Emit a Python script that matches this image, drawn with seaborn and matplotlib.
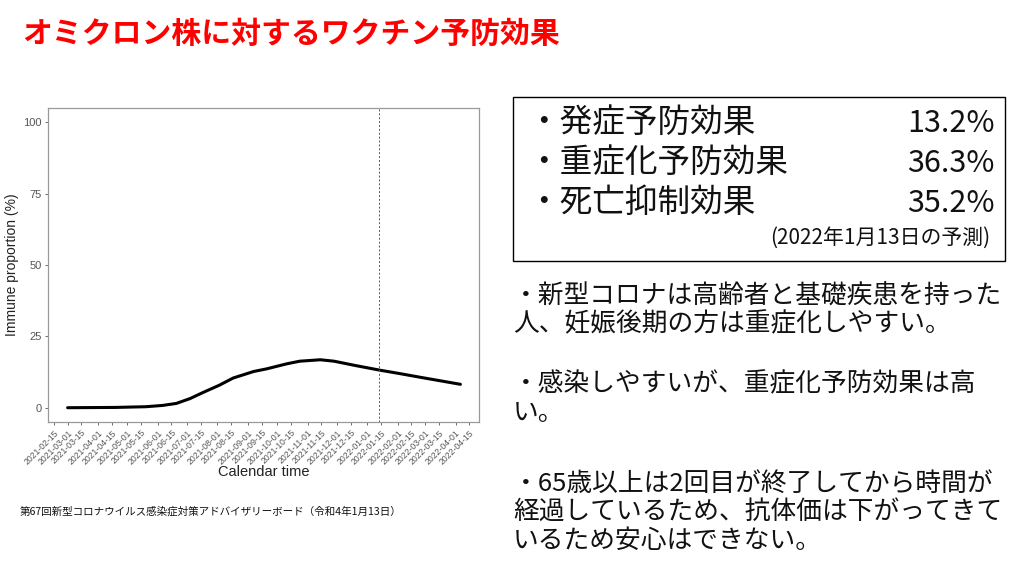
"""
Omicron vaccine effect slide: immune proportion curve plus the text panels.
"""

import pandas as pd
import numpy as np
import matplotlib
matplotlib.use("Agg")
import matplotlib.pyplot as plt
import seaborn as sns

# --- data
dates = ['2021-03-01', '2021-04-19', '2021-05-20', '2021-06-06', '2021-06-20',
         '2021-07-04', '2021-07-17', '2021-08-03', '2021-08-17', '2021-09-07',
         '2021-09-20', '2021-10-11', '2021-10-24', '2021-11-14', '2021-11-28',
         '2021-12-18', '2022-01-13', '2022-02-04', '2022-02-25', '2022-03-17',
         '2022-04-06']
immune = [0.0, 0.1, 0.35, 0.8, 1.5,
          3.2, 5.3, 7.9, 10.4, 12.7,
          13.6, 15.4, 16.3, 16.8, 16.3,
          14.9, 13.2, 11.9, 10.6, 9.4,
          8.2]
forecast_date = '2022-01-13'
y_ticks = [0, 25, 50, 75, 100]

title = 'オミクロン株に対するワクチン予防効果'
effect_names = ['発症予防効果', '重症化予防効果', '死亡抑制効果']
effect_values = ['13.2%', '36.3%', '35.2%']
effect_note = '(2022年1月13日の予測)'
notes = [
    ['・新型コロナは高齢者と基礎疾患を持った', '人、妊娠後期の方は重症化しやすい。'],
    ['・感染しやすいが、重症化予防効果は高', 'い。'],
    ['・65歳以上は2回目が終了してから時間が', '経過しているため、抗体価は下がってきて', 'いるため安心はできない。'],
]
source = '第67回新型コロナウイルス感染症対策アドバイザリーボード（令和4年1月13日）'

df = pd.DataFrame({'date': pd.to_datetime(dates), 'immune': immune})

sns.set_style("white")
plt.rcParams['font.family'] = ['Noto Sans CJK JP', 'DejaVu Sans']

fig = plt.figure(figsize=(10.24, 5.76), dpi=100)
ax = fig.add_axes([0.0469, 0.2674, 0.4209, 0.545])

sns.lineplot(data=df, x='date', y='immune', color='black', linewidth=2.2, ax=ax)
ax.axvline(pd.Timestamp(forecast_date), color='#555555', linestyle=(0, (2, 2)), linewidth=0.7)

ax.set_ylim(-5, 105)
ax.set_xlim(pd.Timestamp('2021-02-09'), pd.Timestamp('2022-04-25'))
ax.set_yticks(y_ticks)
ticks = pd.date_range('2021-02-15', '2022-04-15', freq='SMS')
ax.set_xticks(ticks)
ax.set_xticklabels([d.strftime('%Y-%m-%d') for d in ticks], rotation=45, ha='right',
                   rotation_mode='anchor', fontsize=6.2, color='#555555',
                   family='Liberation Sans')
for lab in ax.get_yticklabels():
    lab.set_family('Liberation Sans')
ax.tick_params(axis='y', labelsize=8, colors='#555555')
ax.tick_params(axis='both', length=2.5, width=0.6, color='#555555', pad=2, bottom=True, left=True)
ax.set_xlabel('Calendar time', fontsize=10.5, family='Liberation Sans', labelpad=-1, color='#222222')
ax.set_ylabel('Immune proportion (%)', fontsize=10, family='Liberation Sans', labelpad=3, color='#222222')
for s in ax.spines.values():
    s.set_color('#999999')
    s.set_linewidth(0.9)

# --- slide text
fig.text(22 / 1024, 1 - 34 / 576, title, color='#ff0000', fontsize=21.5, fontweight='bold',
         va='center', ha='left')

box = plt.Rectangle((513 / 1024, 1 - 261 / 576), (1005 - 513) / 1024, (261 - 97) / 576,
                    transform=fig.transFigure, fill=False, edgecolor='black', linewidth=1)
fig.patches.append(box)
for i, (name, val) in enumerate(zip(effect_names, effect_values)):
    y = 1 - (123 + 40 * i) / 576
    fig.text(527 / 1024, y, '・' + name, fontsize=23.5, va='center', ha='left', color='#111111')
    fig.text(995 / 1024, y, val, fontsize=22, va='center', ha='right', color='#111111')
fig.text(990 / 1024, 1 - 238 / 576, effect_note, fontsize=15, va='center', ha='right', color='#111111')

note_top = [296, 384, 484]
for y0, lines in zip(note_top, notes):
    for j, line in enumerate(lines):
        fig.text(513 / 1024, 1 - (y0 + 28.5 * j) / 576, line, fontsize=18.5, va='center',
                 ha='left', color='#111111')

fig.text(20 / 1024, 1 - 511 / 576, source, fontsize=7.6, va='center', ha='left', color='#111111')

plt.savefig('out.png', dpi=100)
